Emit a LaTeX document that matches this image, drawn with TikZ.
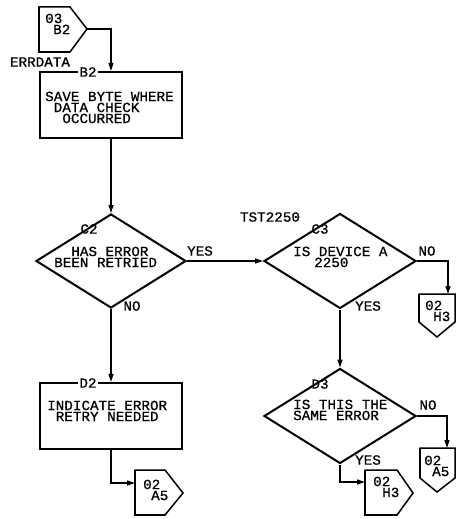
\documentclass[tikz,border=0pt]{standalone}
\usepackage{fontspec}
\newfontfamily\ibm[FakeStretch=1.02,FakeBold=0.8]{Liberation Mono}
\usetikzlibrary{shapes.geometric,arrows.meta}
\newcommand\chsp{\hspace*{8.57pt}}
\begin{document}
\begin{tikzpicture}[x=1pt,y=-1pt,
  every node/.style={font=\ibm\fontsize{14}{11}\selectfont, inner sep=0pt, text=black},
  box/.style={draw, line width=2.2pt, rectangle, minimum width=142pt, minimum height=66pt},
  dia/.style={draw, line width=2pt, diamond, aspect=1.6, minimum width=152pt, minimum height=95pt},
  conn/.style={draw, line width=1.5pt, line join=miter},
  thickedge/.style={line width=2.8pt},
  flow/.style={line width=1.3pt, -{Triangle[length=8pt,width=5pt]}},
  tag/.style={fill=white, inner xsep=1pt, inner ysep=1pt},
  txt/.style={anchor=north west, align=left},
]
\fill[white] (0,0) rectangle (455,519);
\useasboundingbox (0,0) rectangle (455,519);

% B2 box
\node[box] (b2) at (111,105) {};
\node[tag] (b2l) at (88,72) {B2};
\node[txt] (b2t) at (45,91.5) {SAVE BYTE WHERE\\\chsp DATA CHECK\\\chsp\chsp OCCURRED};
\node (errdata) at (40,62) {ERRDATA};

% off-page connector 03 B2
\draw[conn] (39,7) -- (70,7) -- (87,29) -- (70,52) -- (39,52) -- cycle;
\draw[thickedge] (39,7) -- (39,52) -- (70,52);
\coordinate (c03tip) at (87,29);
\node[txt] (c03t) at (45,13.5) {03\\\hspace*{8pt}B2};
\draw[flow] (c03tip) -| (b2.north);

% C2
\node[dia, minimum width=150pt, minimum height=94pt] (c2) at (111,261) {};
\node (c2l) at (89,229) {C2};
\node[txt] (c2t) at (54,246.5) {\chsp\chsp HAS ERROR\\BEEN RETRIED};
\node (c2yes) at (200,251) {YES};
\node (c2no) at (132,306) {NO};
\draw[flow] (b2.south) -- (c2.north);

% C3
\node[dia] (c3) at (340,261) {};
\node (tst) at (270,217) {TST2250};
\node (c3l) at (320,229) {C3};
\node[txt] (c3t) at (293,246.5) {IS DEVICE A\\\hspace*{21pt}2250};
\node (c3no) at (427,251) {NO};
\node (c3yes) at (368,306) {YES};
\draw[flow] (c2.east) -- (c3.west);

% connector 02 H3 (right)
\draw[conn] (419,294) -- (455,294) -- (455,322) -- (437,337) -- (419,322) -- cycle;
\draw[thickedge] (419,294) -- (419,322);
\coordinate (h3aIn) at (448,294);
\node[txt] (h3at) at (425,300.5) {02\\\hspace*{8pt}H3};
\draw[flow] (c3.east) -| (h3aIn);

% D3
\node[dia] (d3) at (340,416) {};
\node (d3l) at (320,384) {D3};
\node[txt] (d3t) at (293,399.5) {IS THIS THE\\SAME ERROR};
\node (d3no) at (428,405) {NO};
\node (d3yes) at (368,460) {YES};
\draw[flow] (c3.south) -- (d3.north);

% connector 02 A5 (right)
\draw[conn] (420,448) -- (455,448) -- (455,478) -- (437,492) -- (420,478) -- cycle;
\draw[thickedge] (420,448) -- (420,478);
\coordinate (a5bIn) at (447,448);
\node[txt] (a5bt) at (424,455.5) {02\\\hspace*{8pt}A5};
\draw[flow] (d3.east) -| (a5bIn);

% connector 02 H3 (bottom)
\draw[conn] (365,470) -- (397,470) -- (413,493) -- (397,515) -- (365,515) -- cycle;
\draw[thickedge] (365,470) -- (365,515) -- (397,515);
\coordinate (h3bIn) at (365,482);
\node[txt] (h3bt) at (373,476.5) {02\\\hspace*{9pt}H3};
\draw[flow] (d3.south) |- (h3bIn);

% D2 box
\node[box] (d2) at (111,416) {};
\node[tag] (d2l) at (88,383) {D2};
\node[txt] (d2t) at (47,400.5) {INDICATE ERROR\\\chsp RETRY NEEDED};
\draw[flow] (c2.south) -- (d2.north);

% connector 02 A5 (bottom left)
\draw[conn] (135,470) -- (165,470) -- (183,493) -- (165,515) -- (135,515) -- cycle;
\draw[thickedge] (135,470) -- (135,515) -- (165,515);
\coordinate (a5aIn) at (135,483);
\node[txt] (a5at) at (143,479.5) {02\\\hspace*{8pt}A5};
\draw[flow] (d2.south) |- (a5aIn);
\end{tikzpicture}
\end{document}
